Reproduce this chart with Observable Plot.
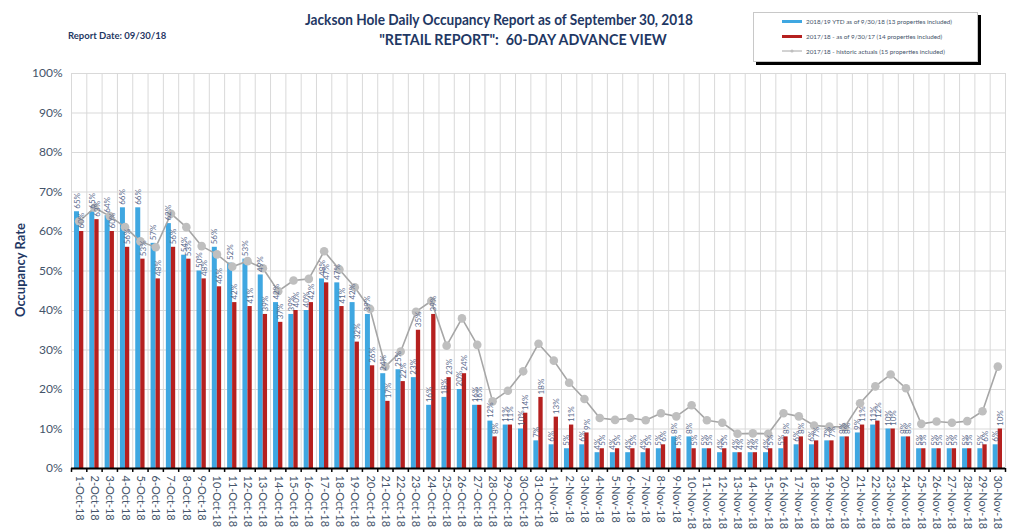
<!DOCTYPE html>
<html><head><meta charset="utf-8">
<script src="https://cdn.jsdelivr.net/npm/d3@7"></script>
<script src="https://cdn.jsdelivr.net/npm/@observablehq/plot@0.6"></script>
<style>
body{margin:0;background:#fff;}
#wrap{position:relative;width:1024px;height:529px;overflow:hidden;font-family:Lato,"Open Sans",sans-serif;}
#chart{position:absolute;left:0;top:0;}
.t1{position:absolute;color:#1F3864;font-weight:bold;white-space:nowrap;font-size:15.5px;transform-origin:50% 50%;}
#rdate{position:absolute;left:68px;top:30px;font-size:9.5px;font-weight:bold;color:#1F3864;}
#ylab{position:absolute;left:20px;top:270px;transform:translate(-50%,-50%) rotate(-90deg);font-size:13px;font-weight:bold;color:#1F3864;white-space:nowrap;}
#legend{position:absolute;left:753px;top:12px;width:223px;height:48px;border:1px solid #c8c8c8;box-shadow:3px 3px 0 #000;background:#fff;font-size:6.3px;color:#44546A;}
.li{position:absolute;left:28px;height:10px;display:flex;align-items:center;white-space:nowrap;}
.sw{display:inline-block;width:20px;height:3px;margin-right:4px;}
</style></head><body>
<div id="wrap">
<div id="chart"></div>
<div class="t1" id="title1" style="left:499px;top:10px;transform:translateX(-50%) scaleX(0.88);">Jackson Hole Daily Occupancy Report as of September 30, 2018</div>
<div class="t1" id="title2" style="left:523px;top:30px;transform:translateX(-50%) scaleX(0.92);">"RETAIL REPORT":&nbsp; 60-DAY ADVANCE VIEW</div>
<div id="rdate">Report Date: 09/30/18</div>
<div id="ylab">Occupancy Rate</div>
<div id="legend"></div>
</div>
<script>
const dates = ["1-Oct-18","2-Oct-18","3-Oct-18","4-Oct-18","5-Oct-18","6-Oct-18","7-Oct-18","8-Oct-18","9-Oct-18","10-Oct-18",
"11-Oct-18","12-Oct-18","13-Oct-18","14-Oct-18","15-Oct-18","16-Oct-18","17-Oct-18","18-Oct-18","19-Oct-18","20-Oct-18",
"21-Oct-18","22-Oct-18","23-Oct-18","24-Oct-18","25-Oct-18","26-Oct-18","27-Oct-18","28-Oct-18","29-Oct-18","30-Oct-18","31-Oct-18",
"1-Nov-18","2-Nov-18","3-Nov-18","4-Nov-18","5-Nov-18","6-Nov-18","7-Nov-18","8-Nov-18","9-Nov-18","10-Nov-18",
"11-Nov-18","12-Nov-18","13-Nov-18","14-Nov-18","15-Nov-18","16-Nov-18","17-Nov-18","18-Nov-18","19-Nov-18","20-Nov-18",
"21-Nov-18","22-Nov-18","23-Nov-18","24-Nov-18","25-Nov-18","26-Nov-18","27-Nov-18","28-Nov-18","29-Nov-18","30-Nov-18"];

const ytd2018 = [65,65,64,66,66,57,62,54,50,56, 52,53,49,42,39,40,48,47,42,39, 24,25,23,16,18,20,16,12,11,10, 7,
 6,5,6,4,4,4,4,5,8,8, 5,4,4,4,4,5,6,6,7,8, 9,11,10,8,5,5,5,5,5,6];

const asOf2017 = [60,63,60,56,53,48,56,53,48,46, 42,41,39,37,40,42,47,41,32,26, 17,22,35,39,23,24,16,8,11,14, 18,
 13,11,9,5,5,5,5,6,5,5, 5,5,4,4,5,8,8,7,7,8, 11,12,10,8,5,5,5,5,6,10];

const historic = [62.6,66,63.9,61.1,57.5,56,64.5,61.1,56.3,54.2, 51.1,52.5,50.7,44.9,47.6,48,55,50.4,45.9,40.4,
 25.8,29.6,39.7,42.4,31.1,38,31.3,17,19.7,24.6, 31.6,
 27.3,21.7,17.6,12.8,12.3,12.8,12.2,14,13.2,16, 12.2,11.6,8.8,8.9,8.8,14,13.2,10.9,10.6,10.5,
 16.5,20.8,23.8,20.3,11.3,11.9,11.6,12,14.5,25.8];

const yTicks = [0,10,20,30,40,50,60,70,80,90,100];

const seriesNames = ["2018/19 YTD as of 9/30/18  (13 properties included)",
  "2017/18 - as of 9/30/17 (14 properties included)",
  "2017/18 - historic actuals (15 properties included)"];
const seriesColors = ["#3FA7E1", "#B5201F", "#A6A6A6"];

const rows = dates.map((d, i) => ({date: d, blue: ytd2018[i], red: asOf2017[i], gray: historic[i]}));

const W = 1024, H = 529, ML = 71, MR = 19, MT = 73, MB = 61;
const bw = (W - ML - MR) / dates.length;
const labelColor = "#5A6A8C";

const chart = Plot.plot({
  width: W, height: H,
  marginLeft: ML, marginRight: MR, marginTop: MT, marginBottom: MB,
  style: {fontFamily: "Lato, 'Open Sans', sans-serif", color: "#44546A", background: "transparent", overflow: "visible"},
  x: {type: "band", domain: dates, padding: 0, round: false, label: null},
  y: {domain: [0, 100], label: null},
  marks: [
    Plot.ruleY(yTicks, {stroke: "#D9D9D9", strokeWidth: 1}),
    Plot.ruleX(dates, {x: d => d, dx: -bw / 2, stroke: "#D9D9D9", strokeWidth: 1}),
    Plot.ruleX(dates.slice(-1), {x: d => d, dx: bw / 2, stroke: "#D9D9D9", strokeWidth: 1}),
    Plot.barY(rows, {x: "date", y: "blue", fill: seriesColors[0], insetLeft: 3, insetRight: bw - 8}),
    Plot.barY(rows, {x: "date", y: "red", fill: seriesColors[1], insetLeft: 8, insetRight: 3}),
    Plot.line(rows, {x: "date", y: "gray", stroke: seriesColors[2], strokeWidth: 1.6}),
    Plot.dot(rows, {x: "date", y: "gray", r: 4.3, fill: "#BFBFBF", stroke: "none"}),
    Plot.text(rows, {x: "date", y: "blue", text: d => d.blue + "%", rotate: -90, textAnchor: "start", lineAnchor: "middle", dx: -2.2, dy: -3, fontSize: 8, fill: labelColor}),
    Plot.text(rows, {x: "date", y: "red", text: d => d.red + "%", rotate: -90, textAnchor: "start", lineAnchor: "middle", dx: 2.6, dy: -3, fontSize: 8, fill: labelColor}),
    Plot.ruleY([0], {stroke: "#000", strokeWidth: 2}),
    Plot.ruleX(dates, {x: d => d, dx: -bw / 2, y1: 0, y2: -1, stroke: "#000", strokeWidth: 1.5}),
    Plot.ruleX(dates.slice(-1), {x: d => d, dx: bw / 2, y1: 0, y2: -1, stroke: "#000", strokeWidth: 1.5}),
    Plot.axisX({tickRotate: 90, tickSize: 0, tickPadding: 7, fontSize: 11, label: null}),
    Plot.axisY({ticks: yTicks, tickFormat: d => d + "%", tickSize: 0, tickPadding: 9, fontSize: 12, label: null})
  ]
});
document.getElementById("chart").appendChild(chart);

// legend
const lg = document.getElementById("legend");
seriesNames.forEach((name, i) => {
  const item = document.createElement("div");
  item.className = "li";
  item.style.top = (3 + i * 15) + "px";
  let sw;
  if (i < 2) {
    sw = `<span class="sw" style="background:${seriesColors[i]}"></span>`;
  } else {
    sw = `<svg width="20" height="6" style="margin-right:4px"><line x1="0" y1="3" x2="20" y2="3" stroke="${seriesColors[2]}" stroke-width="1"/><circle cx="10" cy="3" r="1.6" fill="#BFBFBF"/></svg>`;
  }
  item.innerHTML = sw + `<span>${name}</span>`;
  lg.appendChild(item);
});
</script>
</body></html>
